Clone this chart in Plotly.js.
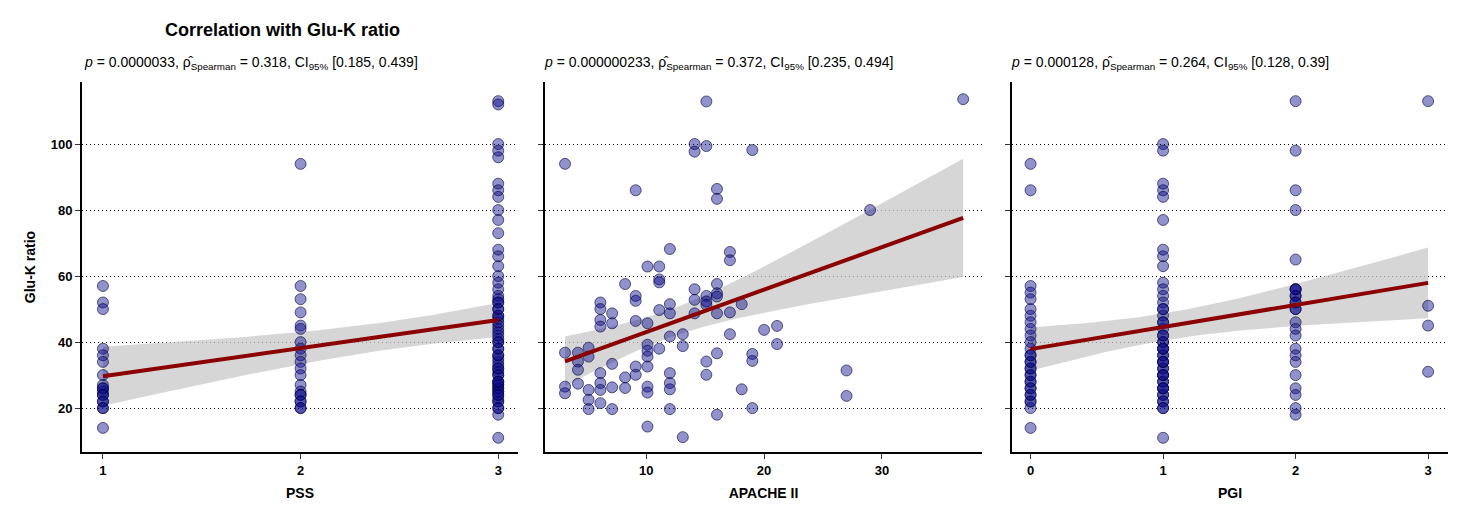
<!DOCTYPE html>
<html>
<head>
<meta charset="utf-8">
<script src="https://cdn.plot.ly/plotly-3.0.1.min.js"></script>
<style>body{margin:0;background:#fff}#plot{width:1470px;height:525px}</style>
</head>
<body>
<div id="plot"></div>
<script>
// PSS panel
const pssX = [1,1,1,1,1,1,1,1,1,1,1,1,1,1,1,1,1,1,
  2,2,2,2,2,2,2,2,2,2,2,2,2,2,2,2,2,2,2,2,
  3,3,3,3,3,3,3,3,3,3,3,3,3,3,3,3,3,3,3,3,3,3,3,3,3,3,3,3,3,3,3,3,3,3,3,3,3,3,3,3,3,3,
  3,3,3,3,3,3,3,3,3,3,3,3,3,3,3,3,3,3,3,3,3,3];
const pssY = [57,52,50,38,36,34,30,27,26,25,24,22,20,14,26,24,22,20,
  94,57,53,49,45,44,40,38,36,34,32,30,27,25,24,22,20,24,22,20,
  113,112,100,98,96,88,86,84,80,77,73,68,66,63,60,58,56,54,53,52,50,48,47,45,43,41,40,38,36,35,33,31,30,28,27,26,25,23,22,20,18,11,
  22,24,25,26,27,28,30,32,34,36,38,40,42,44,46,48,50,52,20,24,28,32];

// APACHE II panel
const apX = [15.1,36.9,14.1,14.1,15.1,19,3.1,9.1,16,16,29,12,17.1,17.1,10.1,11.1,11.1,11.1,8.2,
  16,16,16,14.1,14.1,15.1,15.1,15.1,9.1,9.1,6.1,6.1,7.1,6.1,6.1,7.1,9.1,10.1,
  11.1,12,12,14.1,16,17.1,18.1,20,21.1,21.1,17.1,12,13.1,13.1,10.1,10.1,10.1,10.1,11.1,
  3.1,4.2,5.1,4.2,4.2,5.1,7.1,9.1,9.1,8.2,8.2,6.1,6.1,6.1,6.1,5.1,5.1,5.1,7.1,7.1,
  3.1,3.1,4.2,10.1,10.1,10.1,12,12,12,12,13.1,15.1,15.1,16,16,19,19,18.1,19,27,27];
const apY = [112.9,113.6,100,97.7,99.4,98.2,94,86,86.4,83.4,80,68.2,67.3,64.8,62.9,62.9,59,58.1,57.6,
  57.6,54.8,53.8,56,52.8,54,52.3,51.3,54,52.5,52,50,48.7,46.7,44.7,45.7,46.4,45.7,
  49.7,51.5,48.7,48.7,48.7,49,51.5,43.7,44.9,39.4,42.4,41.7,42.4,38.8,39.2,37.4,35.6,32.6,38,
  36.8,36.8,38.3,34.1,31.6,35.6,33.4,32.6,30.1,29.3,26.1,30.6,27.6,25.5,21.5,25.5,22.5,19.7,26.3,19.7,
  26.5,24.5,27.4,26.5,24.7,14.4,30.6,27.6,25.7,19.7,11.2,34.1,30.1,36.6,18,36.4,34.3,25.7,20,31.4,23.7];

// PGI panel
const pgiX = [0,0,0,0,0,0,0,0,0,0,0,0,0,0,0,0,0,0,0,0,0,0,0,0,0,0,0,0,0,0,
  1,1,1,1,1,1,1,1,1,1,1,1,1,1,1,1,1,1,1,1,1,1,1,1,1,1,1,1,1,1,1,1,1,1,1,1,1,1,1,1,1,1,1,1,1,1,1,1,
  2,2,2,2,2,2,2,2,2,2,2,2,2,2,2,2,2,2,2,2,2,2,2,2,2,
  3,3,3,3];
const pgiY = [94,86,57,55,53,50,48,46,44,42,40,38,36,34,32,30,28,26,24,22,20,14,22,24,26,28,30,32,34,36,
  100,98,88,86,84,77,68,66,63,58,56,54,52,50,48,46,44,42,40,38,36,34,32,30,28,26,24,22,20,11,
  24,26,28,30,32,34,36,38,40,22,20,26,30,34,38,42,46,50,
  113,98,86,80,65,56,54,52,50,46,44,42,38,36,34,30,26,24,20,18,56,54,52,50,56,
  113,51,45,31];

const subtitles = [
  '<i>p</i> = 0.0000033, ρ̂<sub>Spearman</sub> = 0.318, CI<sub>95%</sub> [0.185, 0.439]',
  '<i>p</i> = 0.000000233, ρ̂<sub>Spearman</sub> = 0.372, CI<sub>95%</sub> [0.235, 0.494]',
  '<i>p</i> = 0.000128, ρ̂<sub>Spearman</sub> = 0.264, CI<sub>95%</sub> [0.128, 0.39]'
];
const xTitles = ['PSS', 'APACHE II', 'PGI'];

// linear fit + 95% confidence band
function fit(xs, ys) {
  const n = xs.length;
  const mx = xs.reduce((a, b) => a + b, 0) / n;
  const my = ys.reduce((a, b) => a + b, 0) / n;
  let sxx = 0, sxy = 0;
  for (let i = 0; i < n; i++) { sxx += (xs[i]-mx)**2; sxy += (xs[i]-mx)*(ys[i]-my); }
  const b = sxy / sxx, a = my - b*mx;
  let sse = 0;
  for (let i = 0; i < n; i++) sse += (ys[i] - a - b*xs[i])**2;
  const s = Math.sqrt(sse / (n-2));
  const lo = Math.min(...xs), hi = Math.max(...xs);
  const gx = [], gy = [], up = [], dn = [];
  for (let k = 0; k <= 60; k++) {
    const x = lo + (hi-lo)*k/60;
    const y = a + b*x;
    const se = s*Math.sqrt(1/n + (x-mx)**2/sxx);
    gx.push(x); gy.push(y); up.push(y + 1.98*se); dn.push(y - 1.98*se);
  }
  return {gx, gy, up, dn};
}

const panels = [[pssX, pssY], [apX, apY], [pgiX, pgiY]];
const traces = [];
panels.forEach((p, i) => {
  const xa = i === 0 ? 'x' : 'x' + (i+1);
  const ya = i === 0 ? 'y' : 'y' + (i+1);
  const f = fit(p[0], p[1]);
  traces.push({x: f.gx.concat(f.gx.slice().reverse()), y: f.up.concat(f.dn.slice().reverse()),
    fill: 'toself', fillcolor: 'rgba(200,200,200,0.75)', line: {width: 0}, mode: 'lines',
    hoverinfo: 'skip', xaxis: xa, yaxis: ya});
  traces.push({x: p[0], y: p[1], mode: 'markers', xaxis: xa, yaxis: ya,
    marker: {size: 11, color: 'rgba(10,10,140,0.45)', line: {color: 'rgba(0,0,60,0.6)', width: 1}}});
  traces.push({x: f.gx, y: f.gy, mode: 'lines', line: {color: '#8b0000', width: 4},
    xaxis: xa, yaxis: ya});
});

const domains = [[82/1470, 518/1470], [545/1470, 982/1470], [1012/1470, 1448/1470]];
const xRanges = [[0.894, 3.1], [1.4, 38.5], [-0.14, 3.15]];
const xTicks = [[1,2,3], [10,20,30], [0,1,2,3]];

const layout = {
  width: 1470, height: 525, showlegend: false,
  margin: {l: 0, r: 0, t: 82, b: 73},
  paper_bgcolor: '#fff', plot_bgcolor: '#fff',
  font: {family: 'Liberation Sans, Arial', color: '#000'},
  title: {text: '<b>Correlation with Glu-K ratio</b>', x: 165/1470, xanchor: 'left',
    y: 1 - 30/525, yanchor: 'middle', font: {size: 18}},
  annotations: subtitles.map((t, i) => ({text: t, xref: 'paper', yref: 'paper',
    x: domains[i][0] - (i === 0 ? 0 : 0.002), xanchor: 'left', y: (452-63)/370, yanchor: 'middle',
    showarrow: false, font: {size: 14}}))
};
for (let i = 0; i < 3; i++) {
  const s = i === 0 ? '' : String(i+1);
  layout['xaxis' + s] = {domain: domains[i], range: xRanges[i], tickvals: xTicks[i],
    showgrid: false, zeroline: false, showline: true, linecolor: '#000', linewidth: 2,
    ticks: 'outside', ticklen: 5, tickcolor: '#333', anchor: i === 0 ? 'y' : 'y' + s,
    tickfont: {size: 13, color: '#000', weight: 'bold'},
    title: {text: '<b>' + xTitles[i] + '</b>', font: {size: 14}, standoff: 12}};
  layout['yaxis' + s] = {range: [6.7, 118.8], tickvals: [20,40,60,80,100],
    showticklabels: i === 0, showgrid: true, gridcolor: '#000', griddash: '1px,3px', gridwidth: 1,
    zeroline: false, showline: true, linecolor: '#000', linewidth: 2,
    ticks: 'outside', ticklen: 5, tickcolor: '#333', anchor: i === 0 ? 'x' : 'x' + s,
    tickfont: {size: 13, color: '#000', weight: 'bold'},
    title: i === 0 ? {text: '<b>Glu-K ratio</b>', font: {size: 14}, standoff: 12} : {text: ''}};
}
Plotly.newPlot('plot', traces, layout, {displayModeBar: false});
</script>
</body>
</html>
